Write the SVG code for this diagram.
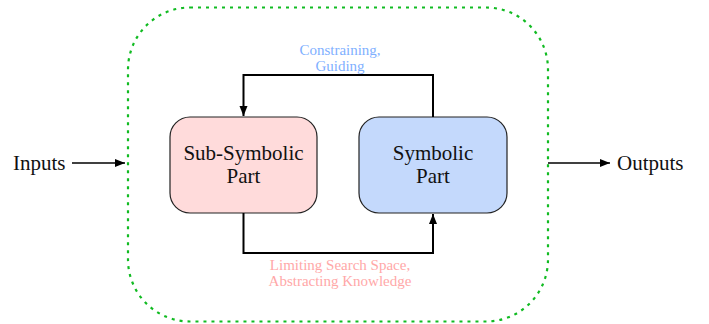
<svg xmlns="http://www.w3.org/2000/svg" width="709" height="324" viewBox="0 0 709 324">
<style>
.t{font-family:"Liberation Serif","Times New Roman",serif;font-size:21px;fill:#111;text-anchor:middle}
.io{font-family:"Liberation Serif","Times New Roman",serif;font-size:21px;fill:#111}
.lb{font-family:"Liberation Serif","Times New Roman",serif;font-size:15px;text-anchor:middle}
.box{stroke:#222;stroke-width:1.2}
.ln{fill:none;stroke:#000;stroke-width:2}
.ar{fill:none;stroke:#000;stroke-width:1.3}
</style>
<defs>
<marker id="ah" viewBox="0 0 10 10" refX="10" refY="5" markerWidth="10" markerHeight="10" markerUnits="userSpaceOnUse" orient="auto">
<path d="M0,1 L10,5 L0,9 Z" fill="#000"/>
</marker>
</defs>
<rect id="system" x="128" y="7.5" width="420" height="314" rx="62" ry="62" fill="none" stroke="#11bb22" stroke-width="2.2" stroke-dasharray="3,5"/>
<g id="inputs"><text class="io" x="13" y="170">Inputs</text></g>
<g id="outputs"><text class="io" x="617" y="170">Outputs</text></g>
<g id="subsymbolic">
<rect class="box" x="170" y="117" width="147" height="96" rx="20" ry="20" fill="#ffdbdb"/>
<text class="t" x="243.5" y="160">Sub-Symbolic</text>
<text class="t" x="243.5" y="183">Part</text>
</g>
<g id="symbolic">
<rect class="box" x="359" y="117" width="148" height="96" rx="20" ry="20" fill="#c4d9fc"/>
<text class="t" x="433" y="160">Symbolic</text>
<text class="t" x="433" y="183">Part</text>
</g>
<g id="connectors">
<path class="ar" d="M72,163 H125" marker-end="url(#ah)"/>
<path class="ar" d="M548,163 H610" marker-end="url(#ah)"/>
<path class="ln" d="M433,117 V75 H243.5 V116" marker-end="url(#ah)"/>
<path class="ln" d="M243.5,213 V253 H433 V214" marker-end="url(#ah)"/>
<text class="lb" x="340" y="55" fill="#80b0ff">Constraining,</text>
<text class="lb" x="340" y="71" fill="#80b0ff">Guiding</text>
<text class="lb" x="340" y="270" fill="#ffa8a8">Limiting Search Space,</text>
<text class="lb" x="340" y="286" fill="#ffa8a8">Abstracting Knowledge</text>
</g>
</svg>
